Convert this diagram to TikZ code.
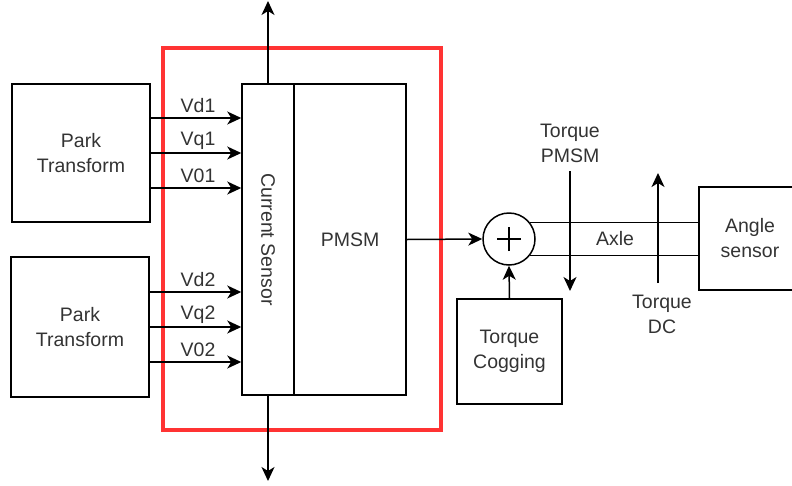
\documentclass[tikz,border=0pt]{standalone}
\usepackage{fontspec}
\setmainfont{Liberation Sans}
\usetikzlibrary{arrows.meta}
\definecolor{redbox}{HTML}{FF3333}
\definecolor{txt}{HTML}{333333}
\begin{document}
\begin{tikzpicture}[x=1pt,y=-1pt,
  every node/.style={font=\fontsize{19.5}{25}\selectfont, text=txt},
  blk/.style={draw=black, line width=1.5pt, align=center, inner sep=0pt},
  arr/.style={draw=black, line width=1.5pt, -{Stealth[length=14pt,width=13pt,inset=4pt]}},
  ln/.style={draw=black, line width=1.5pt},
  lbl/.style={align=center, inner sep=0pt}]
\clip (0,0) rectangle (792,485);
\useasboundingbox (0,0) rectangle (792,485);
% red frame
\node[draw=redbox, line width=3.5pt, minimum width=278pt, minimum height=382pt, inner sep=0pt] (frame) at (302,239) {};
% blocks
\node[blk, minimum width=138pt, minimum height=138pt] (park1) at (81,153) {Park\\Transform};
\node[blk, minimum width=138pt, minimum height=140pt] (park2) at (80,327) {Park\\Transform};
\node[blk, minimum width=52pt, minimum height=311pt] (cs) at (268,239.5) {};
\node[lbl, rotate=-90] (cslbl) at (cs.center) {Current Sensor};
\node[blk, minimum width=112pt, minimum height=311pt] (pmsm) at (350,239.5) {PMSM};
\node[blk, circle, minimum size=52pt] (sum) at (509,239) {};
\draw[line width=2.4pt] ([xshift=-12pt]sum.center) -- ([xshift=12pt]sum.center);
\draw[line width=2.4pt] ([yshift=-12pt]sum.center) -- ([yshift=12pt]sum.center);
\node[blk, minimum width=105pt, minimum height=105pt] (cog) at (509.5,351.5) {Torque\\Cogging};
\node[blk, minimum width=102pt, minimum height=103pt] (angle) at (750,238.5) {Angle\\sensor};
% inputs
\foreach \yy/\tt in {118/Vd1,153/Vq1,188/V01}{
  \draw[arr] (park1.east |- 0,\yy) -- (cs.west |- 0,\yy);
  \node[lbl] at (198,\yy-12) {\tt};
}
\foreach \yy/\tt in {292/Vd2,327/Vq2,362/V02}{
  \draw[arr] (park2.east |- 0,\yy) -- (cs.west |- 0,\yy);
  \node[lbl] at (198,\yy-12) {\tt};
}
% current sensor outputs
\coordinate (topend) at (268,1);
\coordinate (botend) at (268,481);
\draw[arr] (cs.north) -- (topend);
\draw[arr] (cs.south) -- (botend);
% PMSM to sum
\draw[arr] (pmsm.east) -- (sum.west);
\draw[arr] (cog.north) -- (sum.south);
% axle
\draw[ln] (sum.38) -- (angle.west |- sum.38);
\draw[ln] (sum.-38) -- (angle.west |- sum.-38);
\node[lbl] (axle) at (615,239) {Axle};
% torques
\node[lbl] (tpm) at (570,143.5) {Torque\\PMSM};
\coordinate (tpmend) at (570,291);
\draw[arr] (570,171) -- (tpmend);
\node[lbl] (tdc) at (662,314.5) {Torque\\DC};
\coordinate (tdcend) at (658,173);
\draw[arr] (658,283) -- (tdcend);
\end{tikzpicture}
\end{document}
